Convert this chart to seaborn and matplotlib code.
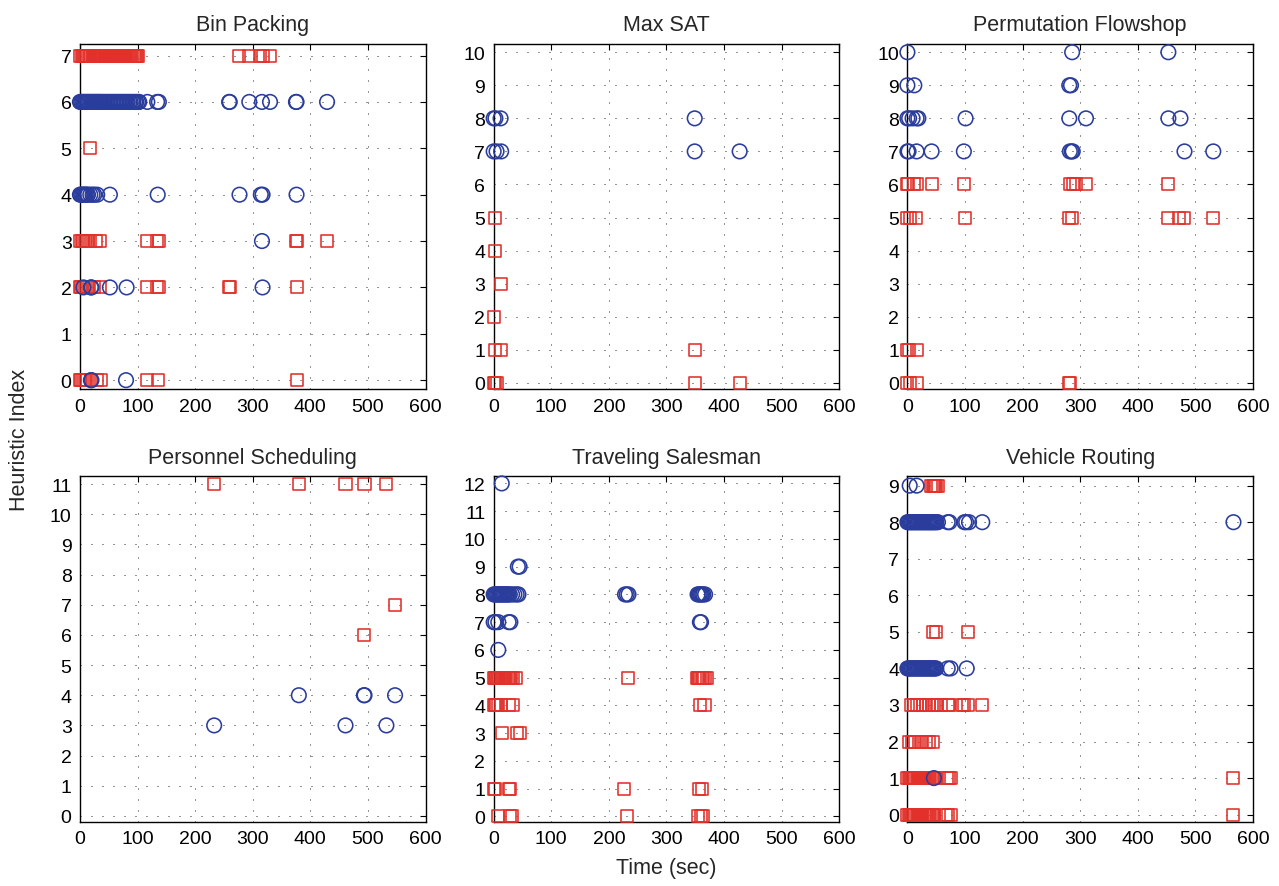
import pandas as pd
import numpy as np
import matplotlib
matplotlib.use("Agg")
import matplotlib.pyplot as plt
import seaborn as sns

# heuristic index -> times (sec) where it was picked
# red squares / blue circles

bp_red = {7: [1, 3, 5, 7, 9, 11, 13, 15, 17, 20, 22, 24, 26, 28, 31, 33, 35, 37, 39, 41, 43, 45, 47, 49, 51, 53,
              55, 57, 59, 61, 63, 65, 67, 69, 71, 73, 75, 77, 79, 81, 83, 85, 87, 89, 91, 93, 95, 97, 99, 101,
              276, 293, 312, 317, 330],
          5: [18],
          3: [0, 3, 5, 8, 10, 14, 18, 27, 35, 116, 134, 137, 375, 376, 429],
          2: [0, 2, 5, 8, 12, 15, 25, 35, 116, 134, 137, 259, 260, 376],
          0: [0, 2, 5, 8, 12, 20, 30, 37, 116, 135, 376]}
bp_blue = {6: [0, 2, 4, 6, 8, 10, 12, 14, 16, 18, 20, 22, 24, 26, 28, 30, 32, 34, 36, 38, 41, 43, 46, 48, 51, 53,
               56, 58, 61, 63, 66, 68, 71, 73, 76, 78, 81, 83, 86, 88, 91, 93, 96, 98, 101, 103,
               117, 134, 137, 259, 260, 294, 316, 330, 375, 376, 429],
           4: [0, 2, 4, 6, 8, 10, 12, 14, 18, 22, 25, 30, 52, 135, 277, 314, 317, 376],
           3: [316],
           2: [6, 19, 20, 52, 81, 317],
           0: [19, 20, 80]}

ms_red = {5: [2], 4: [3], 3: [12], 2: [0],
          1: [3, 12, 349],
          0: [0, 3, 6, 349, 427]}
ms_blue = {8: [0, 3, 12, 349],
           7: [0, 5, 13, 349, 427]}

pf_red = {6: [0, 1, 12, 16, 42, 98, 282, 288, 292, 310, 453],
          5: [0, 4, 15, 100, 281, 285, 453, 471, 480, 531],
          1: [0, 3, 16],
          0: [0, 4, 17, 281, 283]}
pf_blue = {10: [0, 286, 453],
           9: [0, 12, 281, 284],
           8: [0, 3, 9, 16, 19, 101, 281, 310, 453, 474],
           7: [0, 2, 16, 42, 98, 282, 285, 287, 481, 531]}

ps_red = {11: [233, 380, 461, 494, 532],
          7: [547],
          6: [493]}
ps_blue = {4: [380, 493, 494, 547],
           3: [233, 461, 532]}

ts_red = {5: [0, 2, 4, 6, 8, 10, 12, 14, 16, 18, 20, 22, 24, 26, 28, 30, 34, 38, 234, 353, 355, 357, 359, 361, 364, 366, 370],
          4: [0, 2, 4, 8, 12, 26, 33, 358, 366],
          3: [14, 40, 45],
          1: [0, 3, 26, 29, 227, 357, 361],
          0: [8, 29, 31, 231, 354, 360, 364]}
ts_blue = {12: [14],
           9: [42, 45],
           8: [0, 2, 4, 6, 8, 10, 12, 14, 16, 18, 20, 22, 24, 26, 28, 32, 36, 40, 43, 228, 231, 234, 354, 356, 358, 360, 362, 364, 367],
           7: [0, 3, 8, 26, 29, 358, 360],
           6: [8]}

vr_red = {9: [41, 44, 46, 48, 50, 53],
          5: [44, 50, 105],
          3: [7, 12, 17, 22, 27, 32, 37, 42, 47, 52, 58, 70, 73, 94, 99, 105, 130],
          2: [2, 8, 14, 20, 26, 32, 38, 44],
          1: [0, 2, 4, 6, 8, 10, 12, 14, 16, 18, 20, 22, 24, 26, 28, 30, 32, 34, 36, 38, 40, 42, 44, 46, 48, 50,
              69, 73, 76, 566],
          0: [0, 2, 4, 6, 8, 10, 12, 14, 16, 18, 20, 22, 24, 26, 28, 30, 32, 34, 36, 38, 40, 42, 44, 47,
              67, 71, 76, 566]}
vr_blue = {9: [4, 16],
           8: [0, 2, 4, 6, 8, 10, 12, 14, 16, 18, 20, 22, 24, 26, 28, 30, 32, 34, 36, 38, 40, 42, 44, 46, 48, 50, 53,
               70, 73, 99, 102, 107, 130, 566],
           4: [0, 2, 4, 6, 8, 10, 12, 14, 16, 18, 20, 22, 24, 26, 28, 30, 32, 34, 36, 38, 40, 42, 44, 46, 48, 50,
               70, 75, 103],
           1: [46]}

titles = ["Bin Packing", "Max SAT", "Permutation Flowshop",
          "Personnel Scheduling", "Traveling Salesman", "Vehicle Routing"]
reds = [bp_red, ms_red, pf_red, ps_red, ts_red, vr_red]
blues = [bp_blue, ms_blue, pf_blue, ps_blue, ts_blue, vr_blue]
ymaxs = [7, 10, 10, 11, 12, 9]

RED = "#e2302a"
BLUE = "#2b3d9c"


def to_frame(d):
    rows = [(t, h) for h, ts in d.items() for t in ts]
    return pd.DataFrame(rows, columns=["time", "heuristic"])


sns.set_style("white")
plt.rcParams["font.family"] = ["Liberation Sans", "DejaVu Sans"]

fig, axes = plt.subplots(2, 3, figsize=(12.79, 8.87), dpi=100)
plt.subplots_adjust(left=0.0625, right=0.9797, top=0.9493, bottom=0.0722,
                    wspace=0.197, hspace=0.252)

for ax, title, red, blue, ymax in zip(axes.flat, titles, reds, blues, ymaxs):
    sns.scatterplot(data=to_frame(red), x="time", y="heuristic", marker="s", s=75,
                    color=RED, edgecolor=RED, facecolor="none", linewidth=1.15,
                    clip_on=False, zorder=3, ax=ax)
    sns.scatterplot(data=to_frame(blue), x="time", y="heuristic", marker="o", s=110,
                    color=BLUE, edgecolor=BLUE, facecolor="none", linewidth=1.15,
                    clip_on=False, zorder=4, ax=ax)
    ax.set_xlim(0, 600)
    ax.set_ylim(-0.2, ymax + 0.25)
    ax.set_xticks(range(0, 601, 100))
    ax.set_yticks(range(0, ymax + 1))
    ax.set(xlabel="", ylabel="")
    ax.set_title(title, fontsize=15.5, pad=10)
    ax.grid(True, linestyle=(0, (1.2, 12)), color="black", linewidth=0.6)
    ax.tick_params(direction="in", length=4, top=True, right=True, labelsize=14, pad=6,
                   colors="black")
    for sp in ax.spines.values():
        sp.set_color("black")
        sp.set_linewidth(1.0)

axes[1, 1].set_xlabel("Time (sec)", fontsize=15.5, labelpad=7)
fig.text(20 / 1279, 1 - 440 / 887, "Heuristic Index", rotation=90, fontsize=15.5,
         ha="center", va="center")

plt.savefig("out.png", dpi=100)
